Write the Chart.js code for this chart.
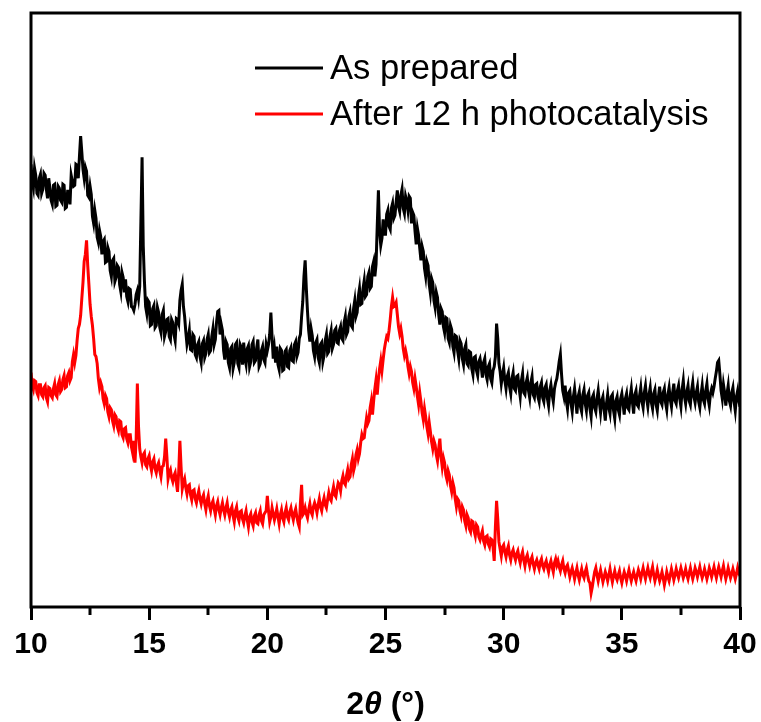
<!DOCTYPE html>
<html>
<head>
<meta charset="utf-8">
<script src="https://cdn.jsdelivr.net/npm/chart.js@4.4.1/dist/chart.umd.min.js"></script>
<style>
html,body{margin:0;padding:0;background:#fff;}
#wrap{width:761px;height:722px;position:relative;}
</style>
</head>
<body>
<div id="wrap"><canvas id="c" width="761" height="722"></canvas></div>
<script>
// 2θ sampling grid (degrees), 0.05° step from 10 to 40
const twoTheta = Array.from({length: 601}, (_, i) => Math.round((10 + i * 0.05) * 100) / 100);

const seriesLabels = ['As prepared', 'After 12 h photocatalysis'];
const xTickLabels = [10, 15, 20, 25, 30, 35, 40];

// Intensity (a.u.), one value per 0.05°, one row per degree
const asPrepared = [
  442,424,418,438,431,413,411,428,432,413,417,433,431,417,408,428,418,406,402,421,
  422,400,401,420,418,406,404,422,421,398,399,415,415,402,431,425,420,421,442,441,
  428,450,470,454,437,428,439,435,411,409,420,412,390,383,396,388,369,364,376,370,
  352,365,367,344,345,359,355,336,330,346,348,325,329,341,339,322,315,334,329,314,
  327,310,305,318,317,300,299,296,302,312,316,308,320,385,449,360,325,300,293,306,
  304,281,282,298,301,279,281,299,294,279,274,292,296,270,275,287,288,270,267,287,
  284,272,266,288,287,283,306,316,322,300,290,275,262,268,276,257,256,272,270,252,
  249,262,265,250,244,263,266,249,253,267,272,254,256,270,278,262,267,284,295,296,
  272,282,276,256,247,265,262,244,239,258,260,238,244,262,264,243,239,262,259,242,
  264,248,242,258,261,240,245,262,265,244,246,259,267,240,243,256,260,247,244,262,
  256,262,272,294,270,248,258,244,260,242,237,258,256,236,237,255,257,240,239,256,
  259,246,245,262,265,250,254,268,272,290,305,330,346,318,295,276,265,278,271,256,
  250,264,267,249,244,262,264,245,251,266,272,253,255,270,276,258,262,276,278,264,
  263,276,280,268,266,284,290,272,275,290,295,281,279,298,306,290,294,310,318,302,
  303,318,326,310,312,330,334,318,320,340,345,330,342,380,416,375,361,368,387,372,
  372,392,396,380,377,398,403,388,391,404,416,400,395,411,417,398,393,410,405,396,
  410,408,383,394,391,375,362,378,371,358,346,360,355,338,330,345,341,322,313,328,
  324,306,299,314,309,292,282,298,295,280,274,289,288,268,264,281,277,260,254,271,
  270,256,248,266,263,248,242,258,262,243,241,255,254,238,232,249,250,236,231,245,
  248,240,229,244,248,232,227,240,243,228,224,236,240,250,283,268,243,235,223,232,
  239,226,218,230,234,220,213,228,234,218,216,230,231,219,210,226,233,214,212,224,
  229,216,209,224,230,212,209,222,223,210,205,220,224,209,205,219,222,208,201,216,
  222,212,205,218,224,228,236,245,252,232,216,210,221,206,198,214,216,203,195,210,
  218,206,193,210,215,200,195,212,217,203,196,211,214,198,190,209,212,199,195,208,
  216,204,194,206,210,197,186,203,212,199,193,210,212,196,188,206,210,197,192,208,
  213,203,192,208,213,199,197,210,218,204,193,212,216,202,200,211,219,205,199,214,
  221,208,200,212,219,204,198,213,217,202,196,210,220,205,202,214,218,204,197,212,
  219,207,200,214,223,206,203,216,221,208,200,217,226,210,203,215,221,206,202,216,
  224,210,204,214,220,205,199,212,221,207,203,216,223,208,201,213,218,214,220,228,
  235,244,246,232,216,208,222,214,201,213,221,206,201,214,219,205,196,210,216,206,
  200
];

const afterPhotocatalysis = [
  234,221,217,226,225,214,211,222,222,212,210,219,221,209,205,219,218,211,209,218,
  223,212,210,222,226,215,217,227,231,219,220,231,234,226,229,245,252,244,251,266,
  278,282,291,308,324,345,352,366,341,322,302,290,281,268,252,250,243,228,219,224,
  220,208,203,211,208,195,190,199,197,186,181,192,190,180,176,186,185,172,169,178,
  179,168,164,172,172,160,154,166,144,168,223,180,158,150,144,152,154,142,140,148,
  151,142,136,145,148,138,134,141,144,136,130,140,141,150,168,150,128,134,137,129,
  125,131,134,124,115,135,166,140,118,124,128,119,113,121,122,112,107,116,117,108,
  104,111,116,108,103,109,112,103,97,106,111,101,96,103,106,98,92,101,105,97,
  92,99,104,97,92,99,104,95,90,97,100,91,85,96,100,90,86,95,96,88,
  84,91,96,87,80,90,93,85,81,91,94,84,83,92,96,86,83,92,94,96,
  111,96,85,90,99,93,87,92,98,90,83,92,97,89,85,94,99,90,87,95,
  99,92,87,94,98,90,84,80,104,122,92,94,99,93,89,97,103,95,92,100,
  104,100,94,102,108,100,96,104,109,102,99,107,114,108,106,114,120,112,110,118,
  124,122,116,126,131,124,122,131,137,128,130,142,148,136,141,152,157,148,153,164,
  172,168,169,180,189,183,186,199,206,192,206,218,227,212,227,238,246,236,247,257,
  264,270,268,276,287,300,309,300,301,304,292,280,273,278,270,258,251,256,250,240,
  233,240,235,224,218,228,220,210,202,214,205,194,187,198,190,180,173,184,175,165,
  158,166,162,152,146,158,168,150,140,149,144,132,127,136,132,121,115,124,119,108,
  100,108,106,96,91,100,97,86,81,92,89,78,75,86,85,76,71,82,80,70,
  67,72,76,66,62,70,71,63,60,68,67,60,46,80,106,88,65,58,51,60,
  62,55,50,57,61,52,47,54,57,51,47,53,56,49,44,51,55,47,41,49,
  52,46,41,47,50,43,38,44,47,42,38,45,48,41,38,43,46,40,35,42,
  46,40,35,44,48,42,46,40,36,42,46,38,34,40,42,36,30,35,39,34,
  28,34,39,32,27,33,38,32,29,35,39,32,26,24,14,20,28,35,39,32,
  26,32,37,31,25,30,35,31,26,32,38,31,25,31,36,30,27,32,36,29,
  24,30,35,31,26,32,37,31,26,31,35,30,26,32,37,33,28,34,39,33,
  28,34,39,33,29,35,40,32,26,31,37,31,26,30,35,29,22,28,35,30,
  26,32,38,33,27,32,38,33,29,34,39,34,29,33,38,32,28,34,39,33,
  28,33,39,35,30,35,40,34,29,33,38,33,28,33,39,35,30,35,40,34,
  29,35,40,35,30,36,41,34,28,33,39,34,29,33,38,33,28,33,39,34,
  31
];

const FONT = "Arial, 'Liberation Sans', Helvetica, sans-serif";

const framePlugin = {
  id: 'frameAndExtras',
  afterDatasetsDraw(chart) {
    const {ctx, chartArea: a, scales: {x}} = chart;
    ctx.save();
    // frame
    ctx.strokeStyle = '#000';
    ctx.lineWidth = 3;
    ctx.strokeRect(a.left, a.top, a.right - a.left, a.bottom - a.top);
    // minor ticks
    for (let v = 12.5; v < 40; v += 5) {
      const px = Math.round(x.getPixelForValue(v));
      ctx.beginPath();
      ctx.moveTo(px, a.bottom);
      ctx.lineTo(px, a.bottom + 8);
      ctx.stroke();
    }
    // legend
    const ds = chart.data.datasets;
    const lx0 = 255, lx1 = 323, ly0 = 68, dy = 46;
    ctx.font = '34.6px ' + FONT;
    ctx.textBaseline = 'middle';
    ctx.textAlign = 'left';
    ds.forEach((d, i) => {
      const y = ly0 + i * dy;
      ctx.strokeStyle = d.borderColor;
      ctx.lineWidth = 3;
      ctx.beginPath();
      ctx.moveTo(lx0, y);
      ctx.lineTo(lx1, y);
      ctx.stroke();
      ctx.fillStyle = '#000';
      ctx.fillText(d.label, 330, y + 1);
    });
    // x-axis title: 2θ (°) with italic θ
    const parts = [
      {t: '2', f: 'bold 32px ' + FONT},
      {t: 'θ', f: 'italic bold 32px ' + FONT},
      {t: ' (°)', f: 'bold 32px ' + FONT}
    ];
    let w = 0;
    parts.forEach(p => { ctx.font = p.f; w += ctx.measureText(p.t).width; });
    let cx = (a.left + a.right) / 2 - w / 2;
    ctx.fillStyle = '#000';
    ctx.textBaseline = 'alphabetic';
    parts.forEach(p => { ctx.font = p.f; ctx.fillText(p.t, cx, 714); cx += ctx.measureText(p.t).width; });
    ctx.restore();
  }
};

new Chart(document.getElementById('c'), {
  type: 'line',
  data: {
    datasets: [
      {
        label: seriesLabels[0],
        data: twoTheta.map((t, i) => ({x: t, y: asPrepared[i]})),
        borderColor: '#000000',
        borderWidth: 3,
        pointRadius: 0,
        tension: 0,
        fill: false
      },
      {
        label: seriesLabels[1],
        data: twoTheta.map((t, i) => ({x: t, y: afterPhotocatalysis[i]})),
        borderColor: '#ff0000',
        borderWidth: 3,
        pointRadius: 0,
        tension: 0,
        fill: false
      }
    ]
  },
  options: {
    responsive: false,
    animation: false,
    devicePixelRatio: 1,
    layout: {padding: {left: 31, right: 21, top: 13, bottom: 52}},
    plugins: {legend: {display: false}, tooltip: {enabled: false}},
    scales: {
      x: {
        type: 'linear',
        min: 10,
        max: 40,
        afterBuildTicks(scale) { scale.ticks = xTickLabels.map(v => ({value: v})); },
        afterFit(scale) { scale.paddingLeft = 0; scale.paddingRight = 0; },
        ticks: {
          font: {family: FONT, size: 30, weight: 'bold'},
          color: '#000',
          padding: 7,
          maxRotation: 0,
          autoSkip: false
        },
        grid: {display: true, drawOnChartArea: false, drawTicks: true, tickLength: 13, tickWidth: 3, tickColor: '#000'},
        border: {display: false}
      },
      y: {
        display: false,
        min: 0,
        max: 593
      }
    }
  },
  plugins: [framePlugin]
});
</script>
</body>
</html>
